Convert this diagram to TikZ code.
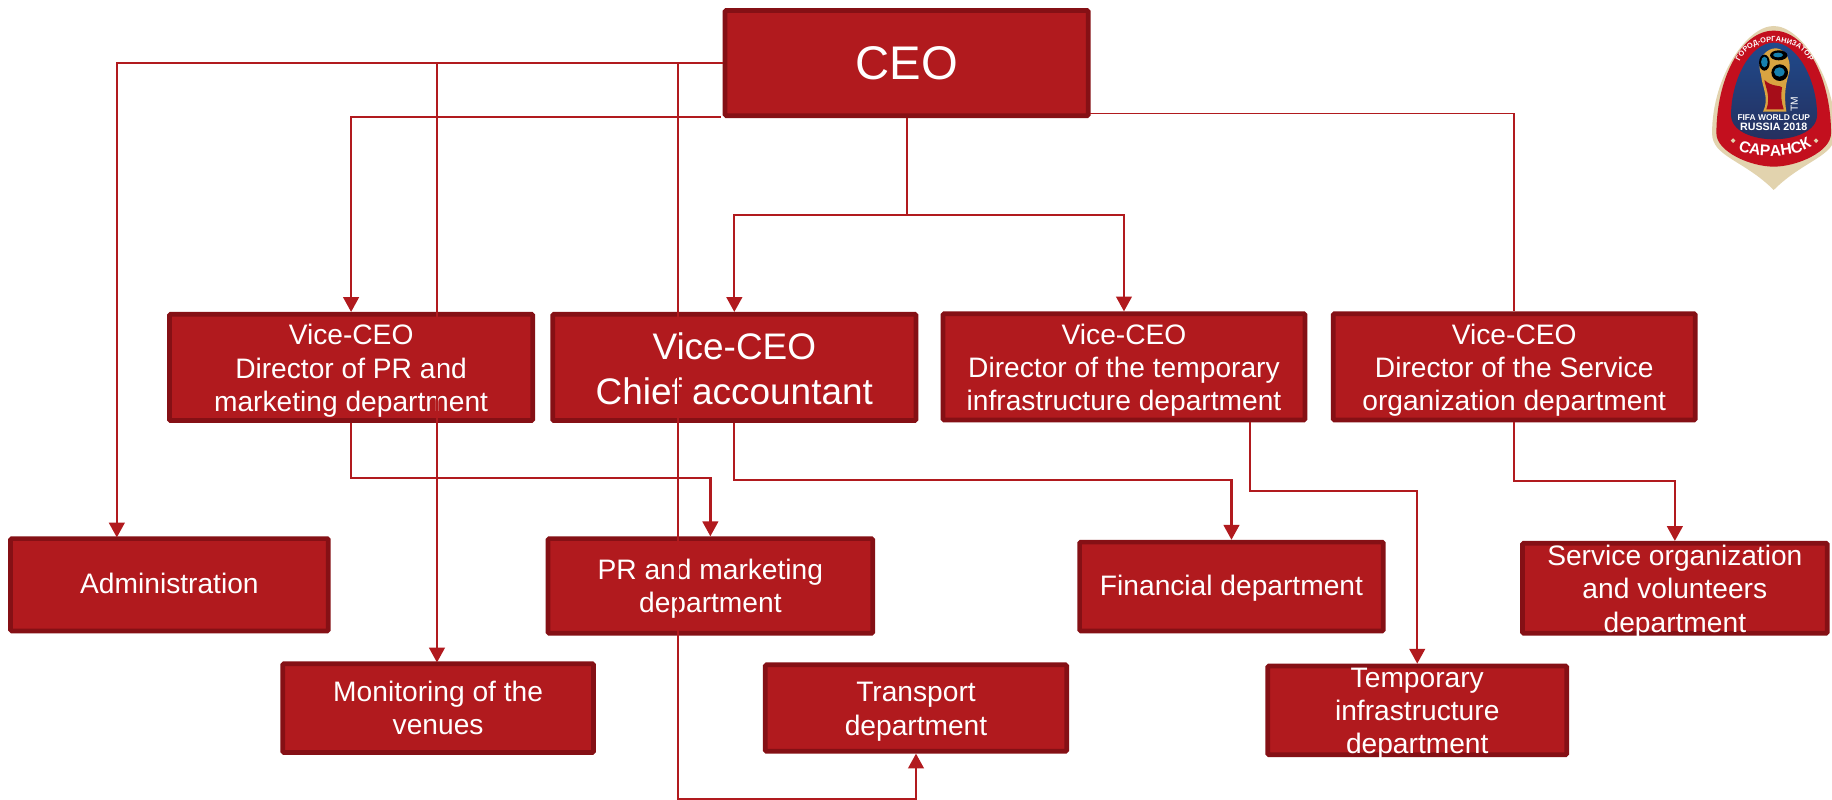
\documentclass[tikz,border=0pt]{standalone}
\usepackage{fontspec}
\setmainfont{Liberation Sans}
\usetikzlibrary{arrows.meta,decorations.text}
\definecolor{boxfill}{HTML}{B11A1E}
\definecolor{boxedge}{HTML}{851015}
\definecolor{cream}{HTML}{E2D3AE}
\definecolor{logored}{HTML}{C30F1E}
\definecolor{logoblue}{HTML}{1F4A8C}
\definecolor{logonavy}{HTML}{25305F}
\definecolor{gold}{HTML}{D9A441}
\tikzset{
  box/.style={draw=boxedge,fill=boxfill,line width=2.3pt,rounded corners=0.6pt,text=white,align=center,inner sep=0pt,font=\fontsize{13.72}{16.2}\selectfont},
  bigbox/.style={box,font=\fontsize{18}{22}\selectfont},
  link/.style={draw=boxfill,line width=1.1pt},
  arrowlink/.style={link,-{Triangle[length=7.2pt,width=7.6pt]}},
}
\newcommand{\lowtext}[2]{\raisebox{-#1}[\dimexpr\height-5pt\relax][\dimexpr\depth-5pt\relax]{\begin{tabular}{@{}c@{}}#2\end{tabular}}}
\begin{document}
\begin{tikzpicture}[x=0.02cm,y=-0.02cm]
\useasboundingbox (0,0) rectangle (1568,684.7);
\fill[white] (0,0) rectangle (1568,684.7);
% boxes
\node[box,minimum width=6.22cm,minimum height=1.8cm,font=\fontsize{23}{27}\selectfont] (ceo) at (776,54) {\lowtext{2.7pt}{CEO}};
\node[box,minimum width=6.22cm,minimum height=1.82cm] (vpr) at (300.5,314.5) {\lowtext{1.9pt}{Vice-CEO\\Director of PR and\\marketing department}};
\node[bigbox,minimum width=6.22cm,minimum height=1.82cm] (vchief) at (628.5,314.5) {\lowtext{2.5pt}{Vice-CEO\\Chief accountant}};
\node[box,minimum width=6.2cm,minimum height=1.82cm] (vtemp) at (962,314) {\lowtext{1.9pt}{Vice-CEO\\Director of the temporary\\infrastructure department}};
\node[box,minimum width=6.2cm,minimum height=1.82cm] (vserv) at (1296,314) {\lowtext{1.9pt}{Vice-CEO\\Director of the Service\\organization department}};
\node[box,minimum width=5.44cm,minimum height=1.58cm] (admin) at (145,500.5) {\lowtext{1.1pt}{Administration}};
\node[box,minimum width=5.56cm,minimum height=1.62cm] (prm) at (608,501.5) {\lowtext{1.7pt}{PR and marketing\\department}};
\node[box,minimum width=5.2cm,minimum height=1.52cm] (fin) at (1054,502) {\lowtext{1.5pt}{Financial department}};
\node[box,minimum width=5.22cm,minimum height=1.54cm] (servorg) at (1433.5,503.5) {\lowtext{1.9pt}{Service organization\\and volunteers\\department}};
\node[box,minimum width=5.32cm,minimum height=1.52cm] (mon) at (375,606) {\lowtext{1.5pt}{Monitoring of the\\venues}};
\node[box,minimum width=5.16cm,minimum height=1.48cm] (trans) at (784,606) {\lowtext{1.9pt}{Transport\\department}};
\node[box,minimum width=5.12cm,minimum height=1.52cm] (tinf) at (1213,608) {\lowtext{1.7pt}{Temporary\\infrastructure\\department}};
% free ends on the CEO box
\coordinate (ceoL) at (ceo.west);
\coordinate (ceoLb) at (617,100);
\coordinate (ceoRb) at (933,97);
% connectors
\draw[arrowlink] (ceoL) -- (100,54) -- (100,460);
\draw[arrowlink] (ceoL) -- (374,54) -- (374,567);
\draw[arrowlink] (ceoL) -- (580,54) -- (580,684) -| (trans.south);
\draw[arrowlink] (ceoLb) -| (vpr.north);
\draw[arrowlink] (ceo.south) -- (776,184) -| (vchief.north);
\draw[arrowlink] (ceo.south) -- (776,184) -| (vtemp.north);
\draw[link,line width=0.8pt] (ceoRb) -| (vserv.north);
\draw[arrowlink] (vpr.south) -- (300.5,409) -| (prm.north);
\draw[arrowlink] (vchief.south) -- (628.5,411) -| (fin.north);
\draw[arrowlink] (1070,361) -- (1070,420) -| (tinf.north);
\draw[arrowlink] (vserv.south) -- (1296,412) -| (servorg.north);
% logo
\begin{scope}[shift={(1404,0)},x=0.005708cm,y=-0.005708cm]
\fill[cream] (400,78) .. controls (480,78) and (585,230) .. (585,400)
  .. controls (585,470) and (490,480) .. (400,570)
  .. controls (310,480) and (215,470) .. (215,400)
  .. controls (215,230) and (320,78) .. (400,78) -- cycle;
\fill[logored] (400,92) .. controls (500,92) and (572,240) .. (572,400)
  .. controls (572,455) and (470,500) .. (400,500)
  .. controls (330,500) and (228,455) .. (228,400)
  .. controls (228,240) and (300,92) .. (400,92) -- cycle;
\shade[top color=logoblue,bottom color=logonavy] (400,128) .. controls (470,128) and (530,240) .. (530,345)
  .. controls (530,395) and (460,418) .. (400,418)
  .. controls (340,418) and (272,395) .. (272,345)
  .. controls (272,240) and (330,128) .. (400,128) -- cycle;
% trophy
\fill[gold] (368,335) .. controls (388,295) and (365,262) .. (362,225)
  .. controls (345,175) and (380,143) .. (408,145)
  .. controls (440,148) and (455,190) .. (445,222)
  .. controls (432,265) and (432,300) .. (438,335) -- cycle;
\fill[black] (372,188) ellipse [x radius=16,y radius=24];
\fill[black] (415,166) ellipse [x radius=26,y radius=15];
\fill[black] (418,218) circle (25);
\fill[logoblue!70!cyan] (372,186) ellipse [x radius=10,y radius=16];
\fill[logoblue!70!cyan] (417,216) ellipse [x radius=16,y radius=14];
\fill[logoblue!70!cyan] (413,165) ellipse [x radius=15,y radius=7];
\fill[logored!85!black] (378,328) .. controls (392,290) and (375,262) .. (372,240)
  .. controls (395,262) and (420,255) .. (425,262)
  .. controls (420,290) and (424,310) .. (430,328) -- cycle;
% texts
\node[text=white,rotate=90,inner sep=0pt,font=\fontsize{5}{5}\selectfont] (tm) at (462,312) {TM};
\node[text=white,inner sep=0pt,font=\bfseries\fontsize{4.1}{4.1}\selectfont] (fifa) at (400,354) {FIFA WORLD CUP};
\node[text=white,inner sep=0pt,font=\bfseries\fontsize{5.2}{5.2}\selectfont] (rus) at (400,381) {RUSSIA 2018};
\fill[cream] (278,415) -- (285,422) -- (278,429) -- (271,422) -- cycle;
\fill[cream] (527,415) -- (534,422) -- (527,429) -- (520,422) -- cycle;
\path[postaction={decorate,decoration={text along path,text align=center,text color=white,
   text={|\bfseries\fontsize{3.6}{3.6}\selectfont|ГОРОД-ОРГАНИЗАТОР}}}]
   (290,207) .. controls (312,98) and (488,98) .. (517,207);
\path[postaction={decorate,decoration={text along path,text align=center,text color=white,
   text={|\bfseries\fontsize{7.6}{7.6}\selectfont|САРАНСК}}}]
   (285,445) .. controls (340,478) and (460,478) .. (522,435);
\end{scope}
\end{tikzpicture}
\end{document}
